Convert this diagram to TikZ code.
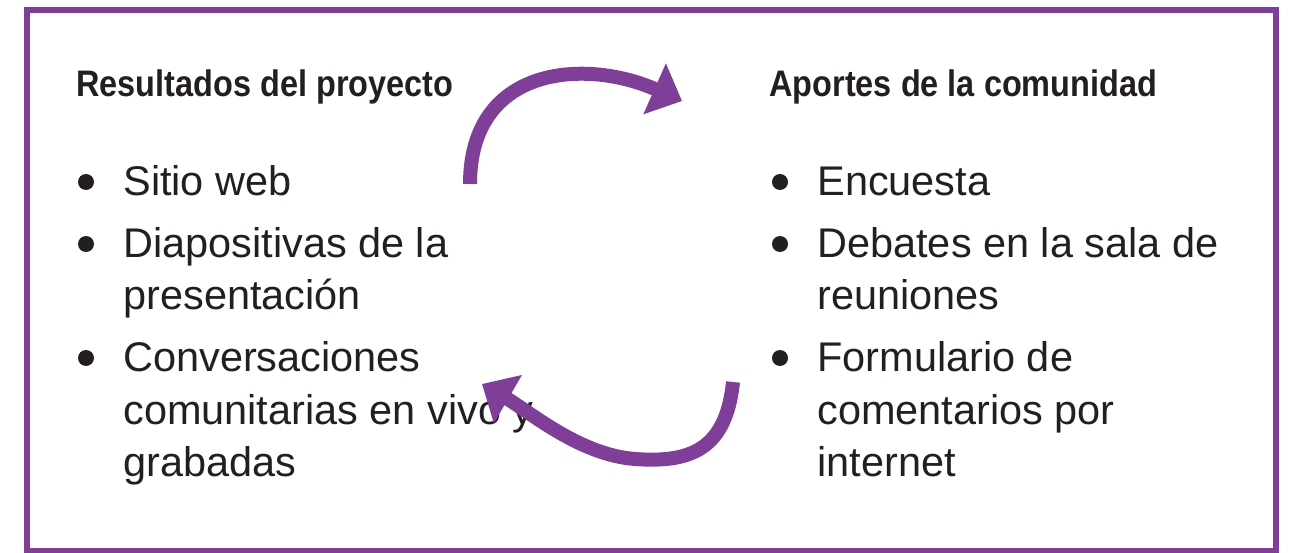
\documentclass[tikz,border=0pt]{standalone}
\usepackage{fontspec}
\usepackage{graphicx}
\setmainfont{Liberation Sans}
\usetikzlibrary{arrows.meta}
\definecolor{morado}{RGB}{127,63,152}
\definecolor{texto}{RGB}{35,31,32}
\newcommand{\estrecho}[1]{\scalebox{0.88}[1]{#1}}

\begin{document}
\begin{tikzpicture}[x=0.02cm,y=-0.02cm,
  titulo/.style={anchor=base west,inner sep=0pt,text=texto,font=\bfseries\fontsize{21}{25}\selectfont},
  linea/.style={anchor=base west,inner sep=0pt,text=texto,font=\fontsize{23.6}{29}\selectfont},
  punto/.style={circle,fill=texto,inner sep=0pt,minimum size=0.32cm},
  flecha/.style={draw=morado,line width=0.28cm,-{Triangle[length=0.6cm,width=1.08cm]}}]
\useasboundingbox (0,0) rectangle (1290,553);
\draw[morado,line width=0.12cm] (27,10.5) rectangle (1275.5,551);

% columna izquierda
\node[titulo] (R0) at (76,97) {\estrecho{Resultados del proyecto}};
\node[punto] (P11) at (86,182) {};
\node[linea] (R1) at (123,196) {Sitio web};
\node[punto] (P12) at (86,244) {};
\node[linea] (R2) at (123,258) {Diapositivas de la};
\node[linea] (R3) at (123,310) {presentación};
\node[punto] (P13) at (86,358) {};
\node[linea] (R4) at (123,372) {Conversaciones};
\node[linea] (R5) at (123,424) {comunitarias en vivo y};
\node[linea] (R6) at (123,476) {grabadas};

% columna derecha
\node[titulo] (A0) at (769,97) {\estrecho{Aportes de la comunidad}};
\node[punto] (P21) at (780,182) {};
\node[linea] (A1) at (817,196) {Encuesta};
\node[punto] (P22) at (780,244) {};
\node[linea] (A2) at (817,258) {Debates en la sala de};
\node[linea] (A3) at (817,310) {reuniones};
\node[punto] (P23) at (780,358) {};
\node[linea] (A4) at (817,372) {Formulario de};
\node[linea] (A5) at (817,424) {comentarios por};
\node[linea] (A6) at (817,476) {internet};

% flechas
\coordinate (F1a) at (470,184);
\coordinate (F1b) at (682,101);
\coordinate (F2a) at (733,382);
\coordinate (F2b) at (482,384);
\draw[flecha] (F1a) .. controls (470,66) and (585,58) .. (F1b);
\draw[flecha] (F2a) .. controls (726,450) and (690,463) .. (635,459)
  .. controls (580,455) and (530,412) .. (F2b);
\end{tikzpicture}
\end{document}
